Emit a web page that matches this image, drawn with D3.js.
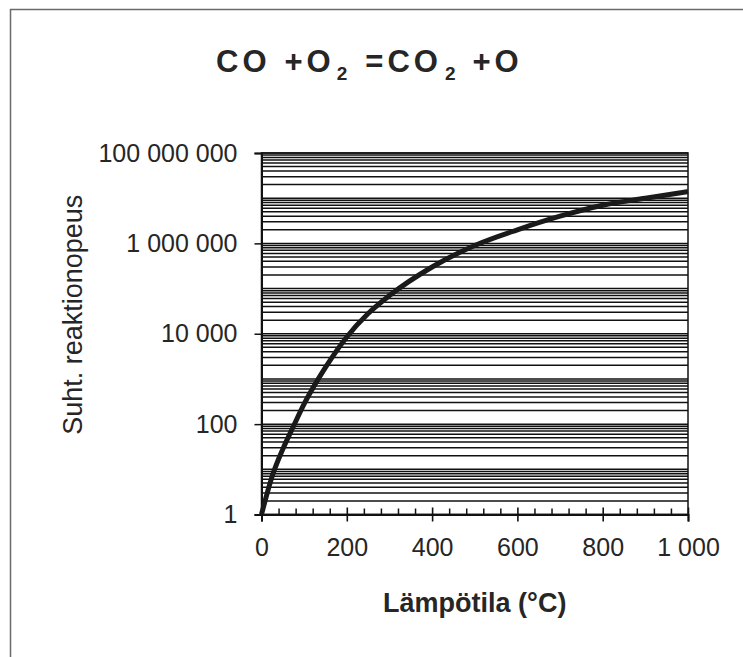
<!DOCTYPE html>
<html lang="fi">
<head>
<meta charset="UTF-8">
<title>CO + O2 = CO2 + O</title>
<script src="https://d3js.org/d3.v7.min.js"></script>
<style>
  body { margin: 0; background: #fff; }
  text { font-family: "Liberation Sans", Arial, sans-serif; fill: #262626; }
</style>
</head>
<body>
<script>
// Lämpötila (°C) ja suhteellinen reaktionopeus, luettu kuvasta
const temperatures = [0, 25, 50, 75, 100, 150, 200, 250, 300, 400, 500, 600, 700, 800, 900, 1000];
const rates = [1, 7, 28, 90, 280, 1800, 8500, 28000, 70000, 300000, 900000, 2000000, 4000000, 7000000, 10000000, 14000000];

const xTicks = [0, 200, 400, 600, 800, 1000];
const yTicks = [1, 100, 10000, 1000000, 100000000];

const width = 743, height = 657;
const plot = { left: 261.5, right: 688, top: 153, bottom: 514.5 };

const svg = d3.select('body').append('svg')
  .attr('width', width)
  .attr('height', height);

svg.append('rect').attr('width', width).attr('height', height).attr('fill', '#fff');

// skannatun sivun reunat
svg.append('line')
  .attr('x1', 10).attr('x2', width).attr('y1', 9.5).attr('y2', 9.5)
  .attr('stroke', '#6a6a6a').attr('stroke-width', 1.5);
svg.append('line')
  .attr('x1', 10.5).attr('x2', 10.5).attr('y1', 9).attr('y2', height)
  .attr('stroke', '#6a6a6a').attr('stroke-width', 1.5);

const x = d3.scaleLinear().domain([0, 1000]).range([plot.left, plot.right]);
const y = d3.scaleLog().domain([1, 1e8]).range([plot.bottom, plot.top]);

const fi = d3.formatLocale({ decimal: ',', thousands: ' ', grouping: [3], currency: ['', ''] });
const fmt = fi.format(',d');

// vaakasuorat apuviivat joka kertoimelle
svg.append('g')
  .selectAll('line')
  .data(y.ticks(80))
  .join('line')
  .attr('x1', plot.left).attr('x2', plot.right)
  .attr('y1', d => y(d)).attr('y2', d => y(d))
  .attr('stroke', '#111')
  .attr('stroke-width', 1.5);

// kehys
svg.append('rect')
  .attr('x', plot.left).attr('y', plot.top)
  .attr('width', plot.right - plot.left).attr('height', plot.bottom - plot.top)
  .attr('fill', 'none').attr('stroke', '#111').attr('stroke-width', 1.5);

// y-akseli
const yAxis = svg.append('g')
  .attr('transform', `translate(${plot.left},0)`)
  .call(d3.axisLeft(y).tickValues(yTicks).tickFormat(fmt).tickSize(7).tickPadding(17));
yAxis.select('.domain').attr('stroke', '#111').attr('stroke-width', 2);
yAxis.selectAll('.tick line').attr('stroke', '#111').attr('stroke-width', 1.5);
yAxis.selectAll('text').style('font-size', '25px').attr('fill', '#262626');

// x-akselin pienet jakoviivat
const xMinor = d3.range(40, 1000, 40).filter(d => d % 200 !== 0);
svg.append('g')
  .attr('transform', `translate(0,${plot.bottom})`)
  .call(d3.axisBottom(x).tickValues(xMinor).tickFormat('').tickSize(-6))
  .call(g => g.select('.domain').remove())
  .selectAll('.tick line').attr('stroke', '#111').attr('stroke-width', 1.5);

// x-akseli
const xAxis = svg.append('g')
  .attr('transform', `translate(0,${plot.bottom})`)
  .call(d3.axisBottom(x).tickValues(xTicks).tickFormat(fmt).tickSize(7).tickPadding(17));
xAxis.select('.domain').attr('stroke', '#111').attr('stroke-width', 2);
xAxis.selectAll('.tick line').attr('y1', -7).attr('stroke', '#111').attr('stroke-width', 1.6);
xAxis.selectAll('text').style('font-size', '25px').attr('fill', '#262626');

// käyrä
const line = d3.line()
  .x((d, i) => x(temperatures[i]))
  .y(d => y(d))
  .curve(d3.curveMonotoneX);

svg.append('path')
  .datum(rates)
  .attr('d', line)
  .attr('fill', 'none')
  .attr('stroke', '#1a1a1a')
  .attr('stroke-width', 5)
  .attr('stroke-linejoin', 'round');

// otsikko
const title = svg.append('text')
  .attr('x', 216)
  .attr('y', 71.5)
  .style('font-size', '31px')
  .style('font-weight', 'bold')
  .style('letter-spacing', '4px');
title.append('tspan').text('CO');
title.append('tspan').attr('dx', 14).text('+O');
title.append('tspan').attr('dx', 2).attr('dy', 8).style('font-size', '19px').text('2');
title.append('tspan').attr('dx', 14).attr('dy', -8).text('=CO');
title.append('tspan').attr('dx', 3).attr('dy', 8).style('font-size', '19px').text('2');
title.append('tspan').attr('dx', 13).attr('dy', -8).text('+O');

// akselien nimet
svg.append('text')
  .attr('transform', `translate(82,${(plot.top + plot.bottom) / 2 - 19}) rotate(-90)`)
  .attr('text-anchor', 'middle')
  .style('font-size', '27px')
  .text('Suht. reaktionopeus');

svg.append('text')
  .attr('x', (plot.left + plot.right) / 2)
  .attr('y', 612)
  .attr('text-anchor', 'middle')
  .style('font-size', '27px')
  .style('font-weight', 'bold')
  .text('Lämpötila (°C)');
</script>
</body>
</html>
